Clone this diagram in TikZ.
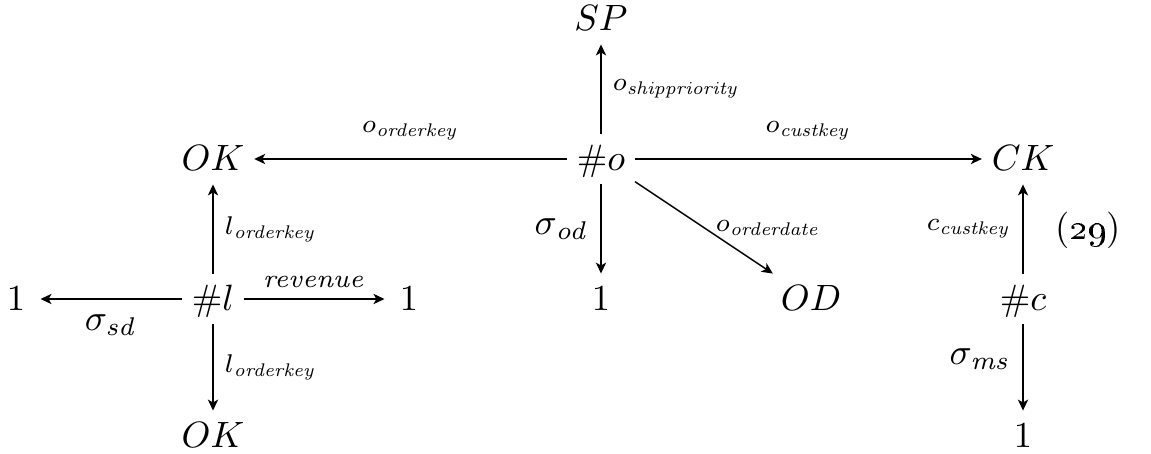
\documentclass[tikz,border=0pt]{standalone}
\usetikzlibrary{arrows.meta}
\begin{document}
\begin{tikzpicture}[x=0.0096cm,y=-0.0096cm,
  obj/.style={inner xsep=2.5pt, inner ysep=3pt, text height=7pt, text depth=0.5pt},
  arr/.style={-{Stealth[length=3pt,width=2.8pt,inset=0.8pt]}, line width=0.4pt},
  lab/.style={inner sep=3pt}]
\useasboundingbox (0,0) rectangle (1151,454);
% objects
\node[obj] (SP)  at (601,19)  {$SP$};
\node[obj] (o)   at (601,159) {$\#o$};
\node[obj] (OKt) at (213,159) {$OK$};
\node[obj] (CK)  at (1023,159) {$CK$};
\node[obj] (oone) at (601,299) {$1$};
\node[obj] (OD)  at (811,299) {$OD$};
\node[obj] (l)   at (213,299) {$\#l$};
\node[obj, inner xsep=4pt] (lone) at (16,299) {$1$};
\node[obj, inner xsep=4pt] (rone) at (409,299) {$1$};
\node[obj] (OKb) at (213,436) {$OK$};
\node[obj] (c)   at (1023,299) {$\#c$};
\node[obj] (cone) at (1023,436) {$1$};
\node (eq) at (1088,230) {(\oldstylenums{29})};
% connectors
\draw[arr] (o) -- node[lab, above, yshift=2pt] {$\scriptstyle o_{\mathit{orderkey}}$} (OKt);
\draw[arr] (o) -- node[lab, above, yshift=2pt] {$\scriptstyle o_{\mathit{custkey}}$} (CK);
\draw[arr] (o) -- node[lab, right] {$\scriptstyle o_{\mathit{shippriority}}$} (SP);
\draw[arr] (o) -- node[lab, left] {$\sigma_{\mathit{od}}$} (oone);
\draw[arr] (o) -- node[lab, anchor=west] {$\scriptstyle o_{\mathit{orderdate}}$} (OD);
\draw[arr] (l) -- node[lab, right] {$\scriptstyle l_{\mathit{orderkey}}$} (OKt);
\draw[arr] (l) -- node[lab, below, yshift=-1pt] {$\sigma_{\mathit{sd}}$} (lone);
\draw[arr] (l) -- node[lab, above] {$\scriptstyle \mathit{revenue}$} (rone);
\draw[arr] (l) -- node[lab, right] {$\scriptstyle l_{\mathit{orderkey}}$} (OKb);
\draw[arr] (c) -- node[lab, left] {$\scriptstyle c_{\mathit{custkey}}$} (CK);
\draw[arr] (c) -- node[lab, left, pos=0.4] {$\sigma_{\mathit{ms}}$} (cone);
\end{tikzpicture}
\end{document}
